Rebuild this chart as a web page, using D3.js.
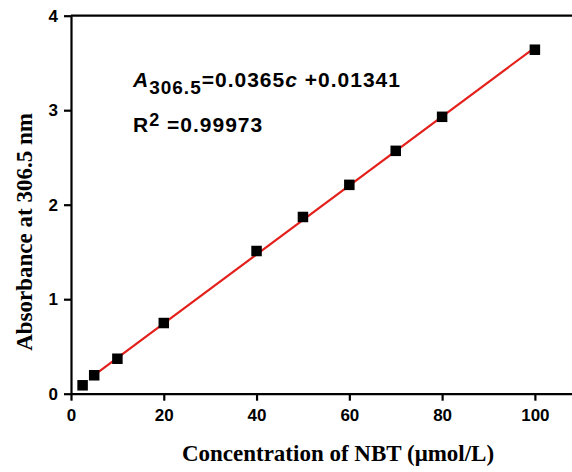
<!DOCTYPE html>
<html>
<head>
<meta charset="utf-8">
<script src="https://cdn.jsdelivr.net/npm/d3@7"></script>
<style>
  body { margin: 0; background: #fff; }
  svg { display: block; }
</style>
</head>
<body>
<svg id="chart" width="572" height="472"></svg>
<script>
// measured points
const conc = [2.5, 5, 10, 20, 40, 50, 60, 70, 80, 100];
const absorbance = [0.089, 0.195, 0.37, 0.748, 1.51, 1.87, 2.21, 2.57, 2.93, 3.64];
const xTicks = [0, 20, 40, 60, 80, 100];
const yTicks = [0, 1, 2, 3, 4];
// linear fit A = slope * c + intercept
const slope = 0.0365;
const intercept = 0.01341;
const fitRange = [5, 100];

const svg = d3.select("#chart");
const width = 572;

const x = d3.scaleLinear().domain([0, 108]).range([71, 572]);
const y = d3.scaleLinear().domain([0, 4]).range([393.7, 15.7]);

// top frame line
svg.append("line")
    .attr("x1", x(0)).attr("x2", width)
    .attr("y1", y(4)).attr("y2", y(4))
    .attr("stroke", "#000").attr("stroke-width", 2.2);

const xAxis = svg.append("g")
    .attr("transform", `translate(0,${y(0)})`)
    .call(d3.axisBottom(x).tickValues(xTicks).tickFormat(d3.format("d"))
        .tickSize(7).tickSizeOuter(0).tickPadding(8));

const yAxis = svg.append("g")
    .attr("transform", `translate(${x(0)},0)`)
    .call(d3.axisLeft(y).tickValues(yTicks).tickFormat(d3.format("d"))
        .tickSize(7).tickSizeOuter(0).tickPadding(6));

[xAxis, yAxis].forEach(g => {
    g.select(".domain").attr("stroke", "#000").attr("stroke-width", 2.2);
    g.selectAll(".tick line").attr("stroke", "#000").attr("stroke-width", 2.2);
    g.selectAll(".tick text")
        .attr("fill", "#000")
        .style("font-family", "'Liberation Sans', Arial, sans-serif")
        .style("font-weight", "bold")
        .style("font-size", "17px");
});

// fitted line
svg.append("line")
    .attr("x1", x(fitRange[0])).attr("y1", y(slope * fitRange[0] + intercept))
    .attr("x2", x(fitRange[1])).attr("y2", y(slope * fitRange[1] + intercept))
    .attr("stroke", "#e3201b").attr("stroke-width", 2.2);

// square markers
const size = 10.5;
svg.selectAll("rect.pt")
    .data(conc.map((c, i) => ({ c: c, a: absorbance[i] })))
    .enter()
    .append("rect")
    .attr("class", "pt")
    .attr("x", d => x(d.c) - size / 2)
    .attr("y", d => y(d.a) - size / 2)
    .attr("width", size)
    .attr("height", size)
    .attr("fill", "#000");

// equation text
const eqFont = "'Liberation Sans', Arial, sans-serif";
const eq = svg.append("text")
    .attr("x", 133).attr("y", 87)
    .style("font-family", eqFont)
    .style("font-weight", "bold")
    .style("font-size", "21px")
    .style("letter-spacing", "1px")
    .attr("fill", "#000");
eq.append("tspan").style("font-style", "italic").text("A");
eq.append("tspan").attr("dy", 7).style("font-size", "19px").text("306.5");
eq.append("tspan").attr("dy", -7).text("=0.0365");
eq.append("tspan").style("font-style", "italic").text("c");
eq.append("tspan").text(" +0.01341");

const r2 = svg.append("text")
    .attr("x", 133).attr("y", 132)
    .style("font-family", eqFont)
    .style("font-weight", "bold")
    .style("font-size", "21px")
    .style("letter-spacing", "1px")
    .attr("fill", "#000");
r2.append("tspan").text("R");
r2.append("tspan").attr("dy", -6).style("font-size", "18px").text("2");
r2.append("tspan").attr("dy", 6).text(" =0.99973");

// axis titles
svg.append("text")
    .attr("x", 338).attr("y", 461)
    .attr("text-anchor", "middle")
    .style("font-family", "'Liberation Serif', 'Times New Roman', serif")
    .style("font-weight", "bold")
    .style("font-size", "23px")
    .text("Concentration of NBT (μmol/L)");

svg.append("text")
    .attr("transform", "translate(32,232) rotate(-90)")
    .attr("text-anchor", "middle")
    .style("font-family", "'Liberation Serif', 'Times New Roman', serif")
    .style("font-weight", "bold")
    .style("font-size", "23px")
    .text("Absorbance at 306.5 nm");
</script>
</body>
</html>
